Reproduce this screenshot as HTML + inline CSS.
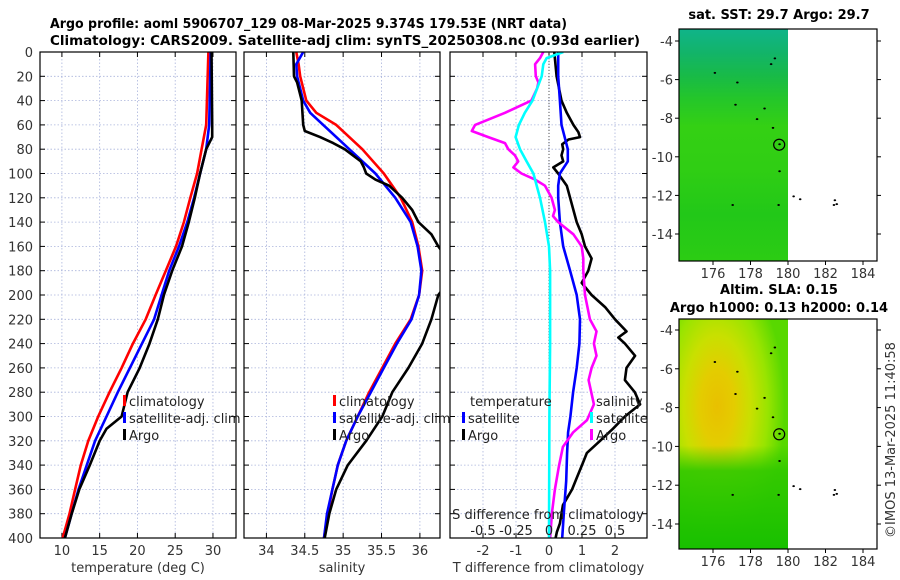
<!DOCTYPE html>
<html><head><meta charset="utf-8">
<style>
html,body{margin:0;padding:0;background:#fff;width:900px;height:580px;overflow:hidden}
svg{display:block;font-family:"DejaVu Sans","Liberation Sans",sans-serif}
</style></head>
<body>
<svg id="fig" width="900" height="580" viewBox="0 0 900 580" xmlns="http://www.w3.org/2000/svg">
<defs>
<clipPath id="c1"><rect x="40" y="52" width="196" height="486"/></clipPath>
<clipPath id="c2"><rect x="244" y="52" width="196" height="486"/></clipPath>
<clipPath id="c3"><rect x="450" y="52" width="197" height="486"/></clipPath>
<linearGradient id="sstg" x1="0" y1="0" x2="0" y2="1">
<stop offset="0" stop-color="#10b48a"/><stop offset="0.1" stop-color="#12b46a"/><stop offset="0.2" stop-color="#18ba48"/><stop offset="0.3" stop-color="#24c62a"/><stop offset="0.42" stop-color="#34d014"/><stop offset="0.6" stop-color="#30ce14"/><stop offset="0.8" stop-color="#22c818"/><stop offset="1" stop-color="#2ccc14"/>
</linearGradient>
<radialGradient id="slag" cx="0.35" cy="0.38" r="0.62">
<stop offset="0" stop-color="#e8c000"/><stop offset="0.25" stop-color="#e4cc00"/><stop offset="0.5" stop-color="#c8e000"/><stop offset="0.75" stop-color="#98e400"/><stop offset="1" stop-color="#58d800"/>
</radialGradient>
<linearGradient id="slab" x1="0" y1="0" x2="0" y2="1">
<stop offset="0" stop-color="#30c800" stop-opacity="0"/><stop offset="0.55" stop-color="#30c800" stop-opacity="0"/><stop offset="0.66" stop-color="#30c800" stop-opacity="0.9"/><stop offset="1" stop-color="#18c000"/>
</linearGradient>
</defs>
<text x="50" y="28" font-size="13" font-weight="bold" textLength="517" lengthAdjust="spacingAndGlyphs">Argo profile: aoml 5906707_129 08-Mar-2025 9.374S 179.53E (NRT data)</text>
<text x="50" y="45" font-size="13" font-weight="bold" textLength="590" lengthAdjust="spacingAndGlyphs">Climatology: CARS2009. Satellite-adj clim: synTS_20250308.nc (0.93d earlier)</text>
<g id="plots"></g>
<text transform="translate(895,440) rotate(-90)" text-anchor="middle" font-size="13" fill="#333">©IMOS 13-Mar-2025 11:40:58</text>
</svg>
<script>
// ---- data ----
const depthsT = [0,60,80,100,120,140,160,180,200,220,240,260,280,300,320,340,360,380,400];
const tempClim = [29.4,29.1,28.5,27.9,27.0,26.15,25.1,23.75,22.4,21.1,19.4,17.9,16.3,14.8,13.5,12.5,11.75,11.0,10.1];
const tempSat = [29.7,29.5,29.1,28.3,27.5,26.6,25.5,24.2,23.2,22.2,20.6,19.0,17.4,15.9,14.4,13.3,12.2,11.3,10.4];
const depthsTA = [0,60,70,75,80,100,120,140,160,180,200,220,240,260,280,300,310,320,340,360,380,400];
const tempArgo = [29.8,29.9,29.9,29.5,29.1,28.3,27.6,26.8,25.9,24.6,23.5,22.7,21.6,20.3,18.7,17.9,15.9,15.0,13.7,12.3,11.3,10.4];
const depthsS = [0,10,20,40,50,60,80,100,120,140,160,180,200,220,240,260,280,300,320,340,360,380,400];
const salClim = [34.39,34.42,34.44,34.52,34.65,34.91,35.25,35.53,35.75,35.90,35.98,36.03,35.99,35.88,35.68,35.51,35.34,35.19,35.04,34.93,34.86,34.80,34.75];
const salSat = [34.48,34.39,34.40,34.48,34.57,34.74,35.08,35.42,35.68,35.88,35.97,36.02,35.99,35.89,35.70,35.53,35.36,35.19,35.04,34.93,34.86,34.79,34.75];
const depthsSA = [0,20,25,40,60,65,70,75,80,90,95,100,105,110,120,130,140,150,160,165,195,200,220,240,260,280,300,320,340,360,380,400];
const salArgo = [34.35,34.36,34.40,34.46,34.48,34.50,34.70,34.87,35.02,35.23,35.27,35.30,35.42,35.60,35.77,35.90,35.98,36.15,36.24,36.30,36.30,36.24,36.15,36.03,35.85,35.64,35.51,35.30,35.06,34.91,34.82,34.76];
const depthsDT = [0,20,40,50,60,66,70,72,76,80,85,90,95,100,110,120,130,140,150,160,170,180,190,200,210,220,230,235,240,250,260,270,280,290,300,310,320,330,340,350,360,373,388,395,400];
const tdiffArgo = [0.16,0.23,0.38,0.54,0.74,0.89,0.94,0.59,0.40,0.43,0.38,0.43,0.13,0.28,0.54,0.64,0.74,0.84,0.99,1.09,1.29,1.19,0.99,1.29,1.70,2.0,2.35,2.10,2.30,2.61,2.35,2.30,2.60,2.76,2.30,1.94,1.55,1.15,1.0,0.85,0.70,0.42,0.33,0.24,0.20];
const depthsDS = [0,20,40,60,80,90,100,110,120,140,160,180,200,220,240,260,280,300,313,330,353,380,400];
const tdiffSat = [0.28,0.28,0.33,0.38,0.57,0.57,0.33,0.28,0.28,0.33,0.43,0.64,0.84,0.94,0.92,0.84,0.73,0.65,0.58,0.55,0.52,0.45,0.40];
const depthsCS = [0,5,10,20,40,50,60,70,80,90,100,120,140,160,180,240,300,400];
const sdiffSat = [0.108,-0.018,-0.043,-0.055,-0.125,-0.183,-0.228,-0.253,-0.22,-0.17,-0.118,-0.068,-0.03,0.0,0.008,0.008,0.003,0.0];
const depthsMS = [0,5,10,20,25,30,40,50,60,65,70,75,80,85,90,95,100,105,110,120,130,135,140,150,160,170,180,200,220,230,240,250,260,270,290,303,313,325,341,360,379,400];
const sdiffArgo = [-0.043,-0.068,-0.105,-0.10,-0.08,-0.09,-0.133,-0.333,-0.56,-0.585,-0.46,-0.333,-0.308,-0.258,-0.233,-0.27,-0.208,-0.105,-0.03,0.02,0.045,0.03,0.07,0.185,0.248,0.26,0.26,0.273,0.31,0.36,0.34,0.36,0.323,0.30,0.34,0.288,0.183,0.105,0.075,0.045,0.023,0.008];
const depthTicks = [0,20,40,60,80,100,120,140,160,180,200,220,240,260,280,300,320,340,360,380,400];
const tempTicks = [10,15,20,25,30];
const salTicks = [34,34.5,35,35.5,36];
const salTickLabels = ["34","34.5","35","35.5","36"];
const tdTicks = [-2,-1,0,1,2];
const sdTicks = [-0.5,-0.25,0,0.25,0.5];
const sdTickLabels = ["-0.5","-0.25","0","0.25","0.5"];
const lonTicks = [176,178,180,182,184];
const latTicks = [-4,-6,-8,-10,-12,-14];
const coastLon = [176.1,177.3,177.2,178.35,178.75,179.2,179.55,179.55,177.05,179.5,180.3,180.65,182.45,182.5,182.6,179.1,179.3];
const coastLat = [-5.65,-6.15,-7.3,-8.05,-7.5,-8.5,-9.35,-10.75,-12.5,-12.5,-12.05,-12.2,-12.5,-12.25,-12.45,-5.2,-4.9];
const argoLon = 179.53, argoLat = -9.374;

// ---- scales ----
const NS = "http://www.w3.org/2000/svg";
const root = document.getElementById('plots');
const Y0 = 52, Y1 = 538;
function yD(d){ return Y0 + d/400*(Y1-Y0); }
function lin(d0,d1,r0,r1){ return v => r0 + (v-d0)/(d1-d0)*(r1-r0); }
const xT = lin(7.1,33.05,40,236);
const xS = lin(33.708,36.262,244,440);
const xTD = lin(-3,2.97,450,647);
const xSD = lin(-0.75,0.7424,450,647);
function mk(tag, attrs, parent){ const e=document.createElementNS(NS,tag); for(const k in attrs) e.setAttribute(k,attrs[k]); (parent||root).appendChild(e); return e; }

function panel(name, x0, x1, ticks, xs, labels, xlabel, clip){
  const g = mk('g',{});
  
  
  ticks.forEach(t=>{ const x=xs(t); mk('line',{x1:x,x2:x,y1:Y0,y2:Y1,stroke:'#aab4dc','stroke-width':0.8,'stroke-dasharray':'1.5,2'},g);
    mk('line',{x1:x,x2:x,y1:Y0,y2:Y0+5,stroke:'#000'},g); mk('line',{x1:x,x2:x,y1:Y1,y2:Y1-5,stroke:'#000'},g); });
  depthTicks.forEach(d=>{ const y=yD(d); mk('line',{x1:x0,x2:x1,y1:y,y2:y,stroke:'#aab4dc','stroke-width':0.8,'stroke-dasharray':'1.5,2'},g);
    mk('line',{x1:x0,x2:x0+5,y1:y,y2:y,stroke:'#000'},g); mk('line',{x1:x1,x2:x1-5,y1:y,y2:y,stroke:'#000'},g); });
  if(labels){ ticks.forEach((t,i)=>{ const tx=mk('text',{x:xs(t),y:555,'text-anchor':'middle','font-size':13,fill:'#333'},g); tx.textContent=labels[i];
      }); }
  if(xlabel){ const tl=mk('text',{x:(x0+x1)/2,y:572,'text-anchor':'middle','font-size':13,fill:'#333'},g); tl.textContent=xlabel;
      }
  const cg = mk('g',{'clip-path':'url(#'+clip+')'},g);
  return {g, cg, x0, x1};
}
function line(parent, xs, depths, vals, color, name, w){
  const pts = vals.map((v,i)=> xs(v).toFixed(1)+','+yD(depths[i]).toFixed(1)).join(' ');
  const p = mk('polyline',{points:pts,fill:'none',stroke:color,'stroke-width':w||2.6,'stroke-linejoin':'round'},parent);
  
  
}
function frame(g,x0,x1){ mk('rect',{x:x0,y:Y0,width:x1-x0,height:Y1-Y0,fill:'none',stroke:'#000','stroke-width':1.2},g); }
function legItem(g, x, y, color, label){
  mk('rect',{x:x,y:y-11,width:3,height:11,fill:color},g);
  const t = mk('text',{x:x+6,y:y,'font-size':13,fill:'#222'},g); t.textContent=label;
   
}

depthTicks.forEach(d=>{ const t=mk('text',{x:33,y:yD(d)+5,'text-anchor':'end','font-size':13,fill:'#333'}); t.textContent=d;
    });

const p1 = panel('temperature-panel',40,236,tempTicks,xT,tempTicks.map(String),'temperature (deg C)','c1');
line(p1.cg,xT,depthsT,tempClim,'#f00','temp-climatology-line');
line(p1.cg,xT,depthsT,tempSat,'#00f','temp-satellite-line');
line(p1.cg,xT,depthsTA,tempArgo,'#000','temp-argo-line');
frame(p1.g,40,236);
legItem(p1.g,123,406,'#f00','climatology');
legItem(p1.g,123,423,'#00f','satellite-adj. clim');
legItem(p1.g,123,440,'#000','Argo');

const p2 = panel('salinity-panel',244,440,salTicks,xS,salTickLabels,'salinity','c2');
line(p2.cg,xS,depthsS,salClim,'#f00','sal-climatology-line');
line(p2.cg,xS,depthsS,salSat,'#00f','sal-satellite-line');
line(p2.cg,xS,depthsSA,salArgo,'#000','sal-argo-line');
frame(p2.g,244,440);
legItem(p2.g,333,406,'#f00','climatology');
legItem(p2.g,333,423,'#00f','satellite-adj. clim');
legItem(p2.g,333,440,'#000','Argo');

const p3 = panel('difference-panel',450,647,tdTicks,xTD,tdTicks.map(String),'T difference from climatology','c3');
mk('line',{x1:xTD(0),x2:xTD(0),y1:Y0,y2:Y1,stroke:'#555','stroke-width':1,'stroke-dasharray':'1,2'},p3.cg);
line(p3.cg,xTD,depthsDT,tdiffArgo,'#000','tdiff-argo-line');
line(p3.cg,xTD,depthsDS,tdiffSat,'#00f','tdiff-satellite-line');
line(p3.cg,xSD,depthsMS,sdiffArgo,'#f0f','sdiff-argo-line');
line(p3.cg,xSD,depthsCS,sdiffSat,'#0ff','sdiff-satellite-line');
frame(p3.g,450,647);
{ const t=mk('text',{x:470,y:406,'font-size':13,fill:'#222'},p3.g); t.textContent='temperature';
    }
legItem(p3.g,462,423,'#00f','satellite');
legItem(p3.g,462,440,'#000','Argo');
{ const t=mk('text',{x:596,y:406,'font-size':13,fill:'#222'},p3.g); t.textContent='salinity';
    }
legItem(p3.g,590,423,'#0ff','satellite');
legItem(p3.g,590,440,'#f0f','Argo');
{ const t=mk('text',{x:548,y:519,'text-anchor':'middle','font-size':13,fill:'#222'},p3.g); t.textContent='S difference from climatology';
    }
sdTicks.forEach((s,i)=>{ const t=mk('text',{x:xSD(s),y:535,'text-anchor':'middle','font-size':13,fill:'#222'},p3.g); t.textContent=sdTickLabels[i];
    });

function map(name, top, bottom, yTop, yBot, fillId, overlayId, titles){
  const g = mk('g',{});
  
  
  const L=679,R=877;
  const xl = lin(176,184,713,863);
  const yLat = lin(-4,-14,yTop,yBot);
  mk('rect',{x:L,y:top,width:xl(180)-L,height:bottom-top,fill:'url(#'+fillId+')'},g);
  if(overlayId) mk('rect',{x:L,y:top,width:xl(180)-L,height:bottom-top,fill:'url(#'+overlayId+')'},g);
  coastLon.forEach((lo,i)=>{ mk('ellipse',{cx:xl(lo),cy:yLat(coastLat[i]),rx:1.3,ry:1,fill:'#000'},g); });
  const c = mk('circle',{cx:xl(argoLon),cy:yLat(argoLat),r:5.5,fill:'none',stroke:'#000','stroke-width':1.2},g);
   
  mk('rect',{x:L,y:top,width:R-L,height:bottom-top,fill:'none',stroke:'#000','stroke-width':1.2},g);
  lonTicks.forEach(lo=>{ const x=xl(lo); mk('line',{x1:x,x2:x,y1:bottom,y2:bottom+4,stroke:'#000'},g);
    const t=mk('text',{x:x,y:bottom+17,'text-anchor':'middle','font-size':13,fill:'#333'},g); t.textContent=lo;
      });
  latTicks.forEach(la=>{ const y=yLat(la); mk('line',{x1:L-4,x2:L,y1:y,y2:y,stroke:'#000'},g); mk('line',{x1:R,x2:R+4,y1:y,y2:y,stroke:'#000'},g);
    const t=mk('text',{x:L-6,y:y+5,'text-anchor':'end','font-size':13,fill:'#333'},g); t.textContent=la;
      });
  titles.forEach(tt=>{ const t=mk('text',{x:tt[1],y:tt[2],'text-anchor':'middle','font-size':13,'font-weight':'bold'},g); t.textContent=tt[0];
      });
}
map('sst-map',29,261,41,234,'sstg',null,[['sat. SST: 29.7 Argo: 29.7',779,19]]);
map('sla-map',319,549,330,524,'slag','slab',[['Altim. SLA: 0.15',779,294],['Argo h1000: 0.13 h2000: 0.14',779,312]]);
</script>
</body></html>
